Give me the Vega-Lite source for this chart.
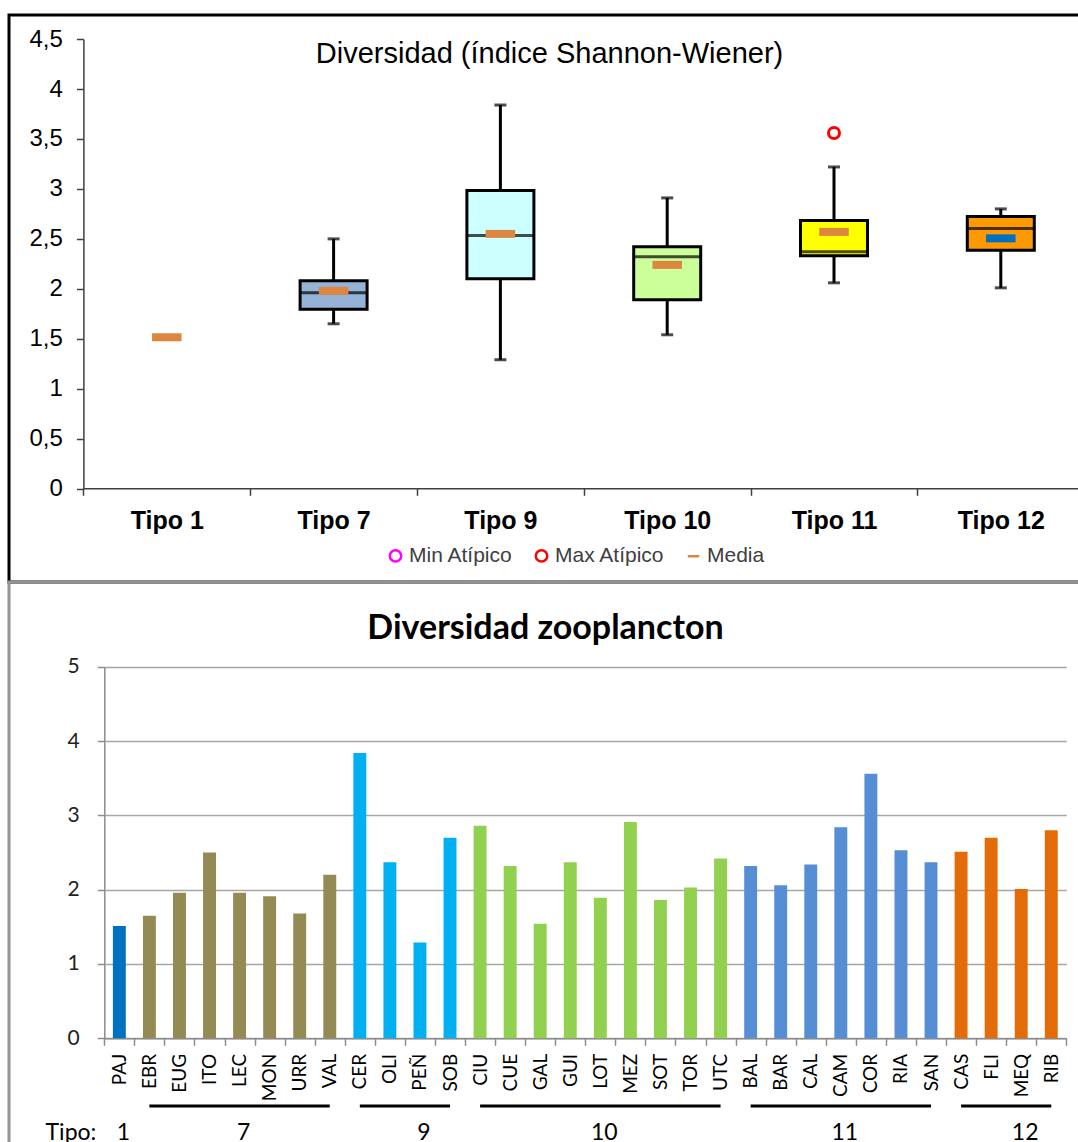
{
  "$schema": "https://vega.github.io/schema/vega-lite/v6.json",
  "padding": {"left": -2, "top": 13, "right": 0, "bottom": 0},
  "background": "white",
  "spacing": 0,
  "bounds": "flush",
  "datasets": {
    "cajas": [
      {"tipo": "Tipo 7", "min": 1.65, "q1": 1.795, "med": 1.96, "q3": 2.08, "max": 2.5},
      {"tipo": "Tipo 9", "min": 1.29, "q1": 2.1, "med": 2.535, "q3": 2.985, "max": 3.84},
      {"tipo": "Tipo 10", "min": 1.54, "q1": 1.89, "med": 2.32, "q3": 2.42, "max": 2.91},
      {"tipo": "Tipo 11", "min": 2.06, "q1": 2.33, "med": 2.37, "q3": 2.685, "max": 3.22},
      {"tipo": "Tipo 12", "min": 2.01, "q1": 2.385, "med": 2.605, "q3": 2.725, "max": 2.8}
    ],
    "puntos": [
      {"tipo": "Tipo 1", "valor": 1.515, "serie": "Media"},
      {"tipo": "Tipo 7", "valor": 1.98, "serie": "Media"},
      {"tipo": "Tipo 9", "valor": 2.55, "serie": "Media"},
      {"tipo": "Tipo 10", "valor": 2.24, "serie": "Media"},
      {"tipo": "Tipo 11", "valor": 2.57, "serie": "Media"},
      {"tipo": "Tipo 12", "valor": 2.505, "serie": "Media"},
      {"tipo": "Tipo 11", "valor": 3.56, "serie": "Max Atípico"}
    ],
    "estaciones": [
      {"estacion": "PAJ", "tipo": "1", "valor": 1.51},
      {"estacion": "EBR", "tipo": "7", "valor": 1.65},
      {"estacion": "EUG", "tipo": "7", "valor": 1.96},
      {"estacion": "ITO", "tipo": "7", "valor": 2.5},
      {"estacion": "LEC", "tipo": "7", "valor": 1.96},
      {"estacion": "MON", "tipo": "7", "valor": 1.91},
      {"estacion": "URR", "tipo": "7", "valor": 1.68},
      {"estacion": "VAL", "tipo": "7", "valor": 2.2},
      {"estacion": "CER", "tipo": "9", "valor": 3.84},
      {"estacion": "OLI", "tipo": "9", "valor": 2.37},
      {"estacion": "PEÑ", "tipo": "9", "valor": 1.29},
      {"estacion": "SOB", "tipo": "9", "valor": 2.7},
      {"estacion": "CIU", "tipo": "10", "valor": 2.86},
      {"estacion": "CUE", "tipo": "10", "valor": 2.32},
      {"estacion": "GAL", "tipo": "10", "valor": 1.54},
      {"estacion": "GUI", "tipo": "10", "valor": 2.37},
      {"estacion": "LOT", "tipo": "10", "valor": 1.89},
      {"estacion": "MEZ", "tipo": "10", "valor": 2.91},
      {"estacion": "SOT", "tipo": "10", "valor": 1.86},
      {"estacion": "TOR", "tipo": "10", "valor": 2.03},
      {"estacion": "UTC", "tipo": "10", "valor": 2.42},
      {"estacion": "BAL", "tipo": "11", "valor": 2.32},
      {"estacion": "BAR", "tipo": "11", "valor": 2.06},
      {"estacion": "CAL", "tipo": "11", "valor": 2.34},
      {"estacion": "CAM", "tipo": "11", "valor": 2.84},
      {"estacion": "COR", "tipo": "11", "valor": 3.56},
      {"estacion": "RIA", "tipo": "11", "valor": 2.53},
      {"estacion": "SAN", "tipo": "11", "valor": 2.37},
      {"estacion": "CAS", "tipo": "12", "valor": 2.51},
      {"estacion": "FLI", "tipo": "12", "valor": 2.7},
      {"estacion": "MEQ", "tipo": "12", "valor": 2.01},
      {"estacion": "RIB", "tipo": "12", "valor": 2.8}
    ],
    "grupos": [
      {"g": "1", "desde": "PAJ", "hasta": "PAJ", "ancla": "PAJ"},
      {"g": "7", "desde": "EBR", "hasta": "VAL", "ancla": "LEC"},
      {"g": "9", "desde": "CER", "hasta": "SOB", "ancla": "PEÑ"},
      {"g": "10", "desde": "CIU", "hasta": "UTC", "ancla": "LOT"},
      {"g": "11", "desde": "BAL", "hasta": "SAN", "ancla": "CAM"},
      {"g": "12", "desde": "CAS", "hasta": "RIB", "ancla": "MEQ"}
    ]
  },
  "vconcat": [
    {
      "width": 1075,
      "height": 567,
      "view": {"stroke": "black", "strokeWidth": 3},
      "title": {
        "text": "Diversidad (índice Shannon-Wiener)",
        "font": "Liberation Sans",
        "fontSize": 29,
        "fontWeight": "normal",
        "color": "black",
        "anchor": "middle",
        "baseline": "bottom",
        "offset": -83,
        "dx": 3
      },
      "encoding": {
        "x": {
          "field": "tipo",
          "type": "nominal",
          "scale": {
            "domain": ["Tipo 1", "Tipo 7", "Tipo 9", "Tipo 10", "Tipo 11", "Tipo 12"],
            "range": [74.4, 1075.2],
            "paddingInner": 0,
            "paddingOuter": 0
          },
          "axis": {
            "orient": "bottom",
            "offset": -93.7,
            "title": null,
            "labelAngle": 0,
            "labelFont": "Liberation Sans",
            "labelFontSize": 25,
            "labelFontWeight": "bold",
            "labelColor": "black",
            "labelPadding": 13,
            "tickBand": "extent",
            "tickSize": 7,
            "tickColor": "#404040",
            "tickWidth": 1.5,
            "domainColor": "#404040",
            "domainWidth": 1.5,
            "grid": false
          }
        }
      },
      "layer": [
        {
          "data": {"name": "cajas"},
          "mark": {"type": "rule", "color": "black", "strokeWidth": 3},
          "encoding": {
            "y": {
              "field": "min",
              "type": "quantitative",
              "scale": {"domain": [0, 4.5], "range": [473.6, 24.1], "nice": false, "zero": false},
              "axis": {
                "orient": "left",
                "offset": -74.4,
                "title": null,
                "values": [0, 0.5, 1, 1.5, 2, 2.5, 3, 3.5, 4, 4.5],
                "format": "~g",
                "labelExpr": "replace(datum.label, '.', ',')",
                "labelFont": "Liberation Sans",
                "labelFontSize": 24,
                "labelColor": "black",
                "labelPadding": 14,
                "tickSize": 7,
                "tickColor": "#404040",
                "tickWidth": 1.5,
                "domainColor": "#404040",
                "domainWidth": 1.5,
                "grid": false
              }
            },
            "y2": {"field": "max"}
          }
        },
        {
          "data": {"name": "cajas"},
          "mark": {"type": "tick", "color": "black", "thickness": 3, "size": 12},
          "encoding": {"y": {"field": "min", "type": "quantitative"}}
        },
        {
          "data": {"name": "cajas"},
          "mark": {"type": "tick", "color": "black", "thickness": 3, "size": 12},
          "encoding": {"y": {"field": "max", "type": "quantitative"}}
        },
        {
          "data": {"name": "cajas"},
          "mark": {"type": "bar", "stroke": "black", "strokeWidth": 3, "width": 67},
          "encoding": {
            "y": {"field": "q1", "type": "quantitative"},
            "y2": {"field": "q3"},
            "fill": {
              "field": "tipo",
              "type": "nominal",
              "scale": {
                "domain": ["Tipo 7", "Tipo 9", "Tipo 10", "Tipo 11", "Tipo 12"],
                "range": ["#95B3D7", "#CCFFFF", "#CCFF99", "#FFFF00", "#FF9900"]
              },
              "legend": null
            }
          }
        },
        {
          "data": {"name": "cajas"},
          "mark": {"type": "tick", "color": "black", "thickness": 3, "size": 67},
          "encoding": {"y": {"field": "med", "type": "quantitative"}}
        },
        {
          "data": {"name": "puntos"},
          "transform": [{"filter": "datum.serie == 'Media' && datum.tipo != 'Tipo 12'"}],
          "mark": {"type": "point", "filled": false, "strokeWidth": 8, "size": 870, "opacity": 1},
          "encoding": {
            "y": {"field": "valor", "type": "quantitative"},
            "stroke": {
              "field": "serie",
              "type": "nominal",
              "scale": {"domain": ["Min Atípico", "Max Atípico", "Media"], "range": ["#FF00FF", "#FF0000", "#DD8640"]},
              "legend": {
                "title": null,
                "orient": "none",
                "legendX": 376,
                "legendY": 530,
                "direction": "horizontal",
                "labelFont": "Liberation Sans",
                "labelFontSize": 21,
                "labelColor": "#404040",
                "symbolSize": 130,
                "symbolStrokeWidth": 2.5,
                "labelOffset": 3,
                "columnPadding": 17
              }
            },
            "shape": {
              "field": "serie",
              "type": "nominal",
              "scale": {"domain": ["Min Atípico", "Max Atípico", "Media"], "range": ["circle", "circle", "M-1,0H1"]},
              "legend": {
                "title": null,
                "orient": "none",
                "legendX": 376,
                "legendY": 530,
                "direction": "horizontal",
                "labelFont": "Liberation Sans",
                "labelFontSize": 21,
                "labelColor": "#404040",
                "symbolSize": 130,
                "symbolStrokeWidth": 2.5,
                "labelOffset": 3,
                "columnPadding": 17
              }
            }
          }
        },
        {
          "data": {"name": "puntos"},
          "transform": [{"filter": "datum.serie == 'Media' && datum.tipo == 'Tipo 12'"}],
          "mark": {"type": "point", "filled": false, "strokeWidth": 8, "size": 870, "opacity": 1, "shape": "M-1,0H1", "stroke": "#0070C0"},
          "encoding": {"y": {"field": "valor", "type": "quantitative"}}
        },
        {
          "data": {"name": "puntos"},
          "transform": [{"filter": "datum.serie == 'Max Atípico'"}],
          "mark": {"type": "point", "filled": false, "strokeWidth": 3, "size": 120, "opacity": 1},
          "encoding": {
            "y": {"field": "valor", "type": "quantitative"},
            "stroke": {"field": "serie", "type": "nominal"},
            "shape": {"field": "serie", "type": "nominal"}
          }
        }
      ]
    },
    {
      "width": 1075,
      "height": 570,
      "view": {"stroke": "#939393", "strokeWidth": 3},
      "title": {
        "text": "Diversidad zooplancton",
        "font": "Lato",
        "fontSize": 34,
        "fontWeight": "bold",
        "color": "black",
        "anchor": "middle",
        "baseline": "bottom",
        "offset": -97.5,
        "dx": -1
      },
      "layer": [
        {
          "data": {"name": "estaciones"},
          "mark": {"type": "bar", "width": {"band": 0.43}},
          "encoding": {
            "x": {
              "field": "estacion",
              "type": "nominal",
              "scale": {
                "domain": ["PAJ", "EBR", "EUG", "ITO", "LEC", "MON", "URR", "VAL", "CER", "OLI", "PEÑ", "SOB", "CIU", "CUE", "GAL", "GUI", "LOT", "MEZ", "SOT", "TOR", "UTC", "BAL", "BAR", "CAL", "CAM", "COR", "RIA", "SAN", "CAS", "FLI", "MEQ", "RIB"],
                "range": [95.3, 1057.3],
                "paddingInner": 0,
                "paddingOuter": 0
              },
              "axis": {
                "orient": "bottom",
                "offset": -113.7,
                "title": null,
                "labelAngle": -90,
                "labelFont": "Lato",
                "labelFontSize": 19,
                "labelColor": "black",
                "labelPadding": 8,
                "tickBand": "extent",
                "tickSize": 7,
                "tickColor": "#8C8C8C",
                "tickWidth": 1.5,
                "domainColor": "#8C8C8C",
                "domainWidth": 1.5,
                "grid": false
              }
            },
            "y": {
              "field": "valor",
              "type": "quantitative",
              "scale": {"domain": [0, 5], "range": [456.3, 84.7], "nice": false, "zero": false},
              "axis": {
                "orient": "left",
                "offset": -95.3,
                "title": null,
                "values": [0, 1, 2, 3, 4, 5],
                "format": "d",
                "labelFont": "Lato",
                "labelFontSize": 21,
                "labelColor": "#222222",
                "labelPadding": 18,
                "tickSize": 7,
                "tickColor": "#8C8C8C",
                "tickWidth": 1.5,
                "domainColor": "#8C8C8C",
                "domainWidth": 1.5,
                "grid": true,
                "gridColor": "#A6A6A6",
                "gridWidth": 1.5
              }
            },
            "color": {
              "field": "tipo",
              "type": "nominal",
              "scale": {
                "domain": ["1", "7", "9", "10", "11", "12"],
                "range": ["#0070C0", "#948A54", "#00B0F0", "#92D050", "#558ED5", "#E36C09"]
              },
              "legend": null
            }
          }
        },
        {
          "data": {"name": "grupos"},
          "transform": [{"filter": "datum.g != '1'"}],
          "mark": {"type": "rule", "color": "black", "strokeWidth": 3},
          "encoding": {
            "x": {"field": "desde", "type": "nominal"},
            "x2": {"field": "hasta"},
            "y": {"datum": -0.911}
          }
        },
        {
          "data": {"name": "grupos"},
          "mark": {"type": "text", "font": "Lato", "fontSize": 23, "color": "black", "baseline": "alphabetic", "align": "center", "dx": 4},
          "encoding": {
            "x": {"field": "ancla", "type": "nominal"},
            "y": {"datum": -1.375},
            "text": {"field": "g"}
          }
        },
        {
          "data": {"values": [{}]},
          "mark": {"type": "text", "text": "Tipo:", "font": "Lato", "fontSize": 23, "color": "black", "baseline": "alphabetic", "align": "right", "dx": -23},
          "encoding": {
            "x": {"datum": "PAJ", "type": "nominal"},
            "y": {"datum": -1.375}
          }
        }
      ]
    }
  ]
}
